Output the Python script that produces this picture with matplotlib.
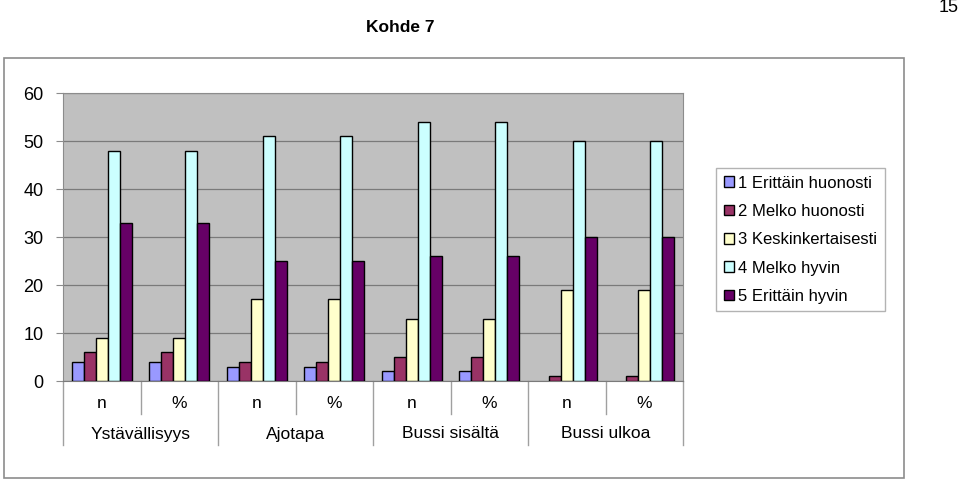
import matplotlib.pyplot as plt
import numpy as np
from matplotlib.patches import Rectangle
from matplotlib.transforms import blended_transform_factory

plt.rcParams["font.family"] = ["Liberation Sans", "DejaVu Sans"]

series_names = [
    "1 Erittäin huonosti",
    "2 Melko huonosti",
    "3 Keskinkertaisesti",
    "4 Melko hyvin",
    "5 Erittäin hyvin",
]
groups = ["Ystävällisyys", "Ajotapa", "Bussi sisältä", "Bussi ulkoa"]
sub_labels = ["n", "%"]

s1 = [4, 4, 3, 3, 2, 2, 0, 0]
s2 = [6, 6, 4, 4, 5, 5, 1, 1]
s3 = [9, 9, 17, 17, 13, 13, 19, 19]
s4 = [48, 48, 51, 51, 54, 54, 50, 50]
s5 = [33, 33, 25, 25, 26, 26, 30, 30]
values = [s1, s2, s3, s4, s5]
colors = ["#9999FF", "#993366", "#FFFFCC", "#CCFFFF", "#660066"]

fig = plt.figure(figsize=(9.6, 4.8), dpi=100)

# outer chart frame
fig.patches.append(Rectangle((4 / 960, 2 / 480), 900 / 960, 420 / 480,
                             transform=fig.transFigure, fill=False,
                             edgecolor="#8c8c8c", linewidth=1.2))
fig.text(400 / 960, 1 - 27 / 480, "Kohde 7", ha="center", va="center",
         fontsize=12.5, fontweight="bold")
fig.text(949 / 960, 1 - 8 / 480, "15", ha="center", va="center", fontsize=13)

ax = fig.add_axes([63 / 960, 99 / 480, 620 / 960, 288 / 480])
ax.set_facecolor("#C0C0C0")

n_cat = len(s1)
x = np.arange(n_cat)
bw = 0.155
for i, (vals, col, name) in enumerate(zip(values, colors, series_names)):
    edges = ["black" if v > 0 else "none" for v in vals]
    ax.bar(x + (i - 2) * bw, vals, width=bw, color=col, edgecolor=edges,
           linewidth=1.0, label=name, zorder=3)

ax.set_xlim(-0.5, n_cat - 0.5)
ax.set_ylim(0, 60)
ax.set_yticks(range(0, 61, 10))
ax.yaxis.grid(True, color="#7a7a7a", linewidth=0.9, zorder=0)
ax.tick_params(axis="y", length=5, color="#8c8c8c", labelsize=13, pad=9)
ax.set_xticks([])
for side in ["top", "right", "left"]:
    ax.spines[side].set_color("#8c8c8c")
ax.spines["bottom"].set_color("#7a7a7a")

# two-level category axis
trans = blended_transform_factory(ax.transData, ax.transAxes)
for k in range(n_cat):
    ax.text(k, -23 / 288, sub_labels[k % 2], transform=trans, ha="center",
            va="center", fontsize=12.5)
for g, name in enumerate(groups):
    ax.text(2 * g + 0.5, -53 / 288, name, transform=trans, ha="center",
            va="center", fontsize=12.5)
for k in range(n_cat + 1):
    depth = 64 / 288 if k % 2 == 0 else 33 / 288
    ax.plot([k - 0.5, k - 0.5], [0, -depth], transform=trans, color="#a0a0a0",
            linewidth=1.0, clip_on=False)

leg = fig.legend(loc="upper left", bbox_to_anchor=(716 / 960, 1 - 168 / 480),
                 fontsize=12, frameon=True, fancybox=False,
                 borderaxespad=0, handlelength=0.6, handleheight=0.6,
                 handletextpad=0.3, labelspacing=0.8, borderpad=0.45)
leg.get_frame().set_edgecolor("#a0a0a0")
leg.get_frame().set_linewidth(1.0)

fig.savefig("out.png", dpi=100)
